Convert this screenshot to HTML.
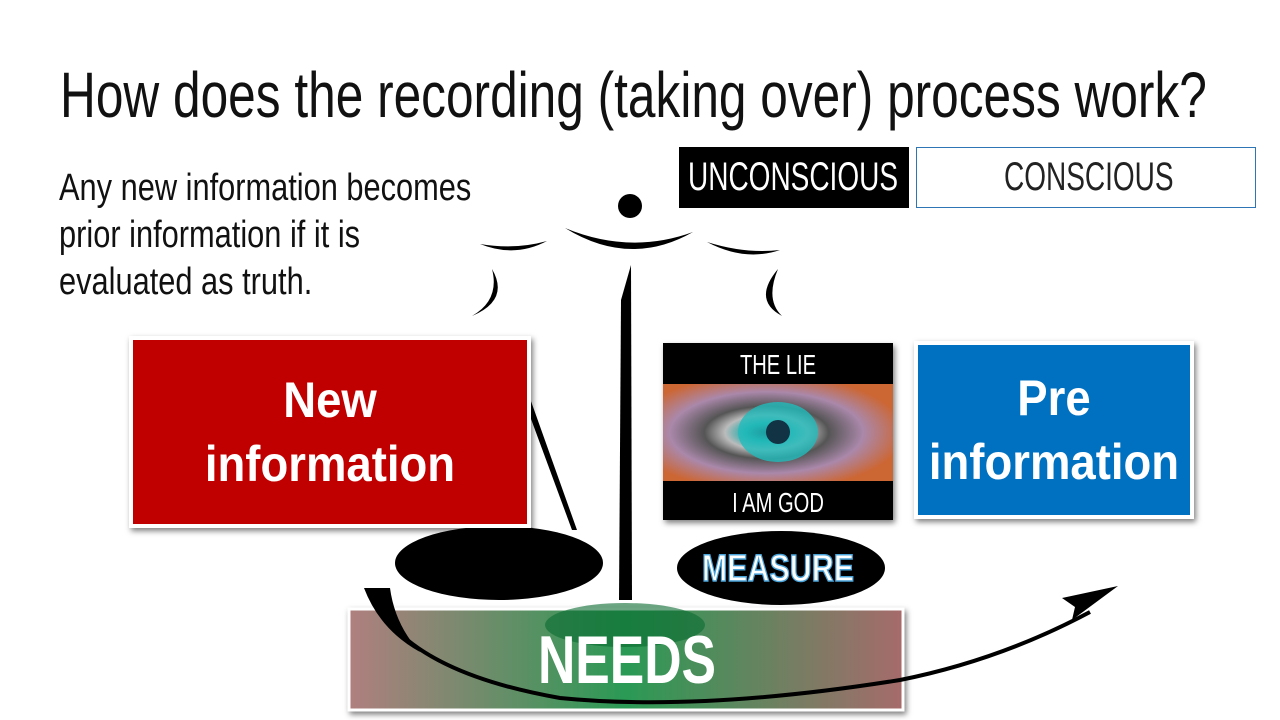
<!DOCTYPE html>
<html><head><meta charset="utf-8"><style>
body{margin:0;width:1280px;height:720px;background:#fff;overflow:hidden;position:relative;font-family:"Liberation Sans",sans-serif}
.t{position:absolute;white-space:nowrap;transform-origin:0 0}
</style></head><body>
<div class="t" style="left:60px;top:58px;font-size:64px;color:#111;transform:scaleX(0.775)">How does the recording (taking over) process work?</div>
<div class="t" style="left:59px;top:165px;font-size:38px;line-height:47px;color:#111;transform:scaleX(0.81)">Any new information becomes<br>prior information if it is<br>evaluated as truth.</div>
<div style="position:absolute;left:679px;top:147px;width:230px;height:61px;background:#000"></div>
<div class="t" style="left:688px;top:155px;font-size:40px;color:#fff;transform:scaleX(0.7)">UNCONSCIOUS</div>
<div style="position:absolute;left:916px;top:147px;width:338px;height:59px;border:1px solid #2e75b6"></div>
<div class="t" style="left:1004px;top:155px;font-size:40px;color:#222;transform:scaleX(0.7)">CONSCIOUS</div>
<svg width="1280" height="720" style="position:absolute;left:0;top:0">
<defs>
<linearGradient id="ng" x1="0" x2="1"><stop offset="0" stop-color="#b07f7f"/><stop offset="0.5" stop-color="#2a9a55"/><stop offset="1" stop-color="#a66b6b"/></linearGradient>
<radialGradient id="eye" cx="0.45" cy="0.5" r="0.6"><stop offset="0" stop-color="#123"/><stop offset="0.15" stop-color="#2aa"/><stop offset="0.3" stop-color="#bbb"/><stop offset="0.45" stop-color="#555"/><stop offset="0.7" stop-color="#a8a"/><stop offset="1" stop-color="#c63"/></radialGradient>
<filter id="sh"><feDropShadow dx="2" dy="3" stdDeviation="3" flood-opacity="0.5"/></filter>
</defs>
<circle cx="630" cy="206" r="12" fill="#000"/>
<path d="M565 228 Q630 268 693 232 Q630 255 565 228Z" fill="#000"/>
<path d="M480 244 Q515 258 547 241 Q515 250 480 244Z" fill="#000"/>
<path d="M707 242 Q745 262 780 250 Q745 254 707 242Z" fill="#000"/>
<path d="M492 269 Q510 300 472 316 Q500 300 492 269Z" fill="#000"/>
<path d="M778 269 Q752 300 782 316 Q765 300 778 269Z" fill="#000"/>
<path d="M631 265 L621 300 L619 600 L632 600Z" fill="#000"/>
<path d="M527 390 L577 530 L572 530 L524 400Z" fill="#000"/>
<ellipse cx="499" cy="563" rx="104" ry="37" fill="#000"/>
<ellipse cx="781" cy="568" rx="104" ry="37" fill="#000"/>
<rect x="131" y="338" width="398" height="188" fill="#c00000" stroke="#fff" stroke-width="4" filter="url(#sh)"/>
<text x="330" y="417" font-size="50" font-weight="bold" fill="#fff" text-anchor="middle" transform="translate(330 0) scale(0.91 1) translate(-330 0)">New</text>
<text x="330" y="481" font-size="50" font-weight="bold" fill="#fff" text-anchor="middle" transform="translate(330 0) scale(0.91 1) translate(-330 0)">information</text>
<rect x="916" y="343" width="276" height="174" fill="#0070c0" stroke="#fff" stroke-width="4" filter="url(#sh)"/>
<text x="1054" y="415" font-size="50" font-weight="bold" fill="#fff" text-anchor="middle" transform="translate(1054 0) scale(0.91 1) translate(-1054 0)">Pre</text>
<text x="1054" y="479" font-size="50" font-weight="bold" fill="#fff" text-anchor="middle" transform="translate(1054 0) scale(0.91 1) translate(-1054 0)">information</text>
<rect x="663" y="343" width="230" height="177" fill="#000" filter="url(#sh)"/>
<rect x="663" y="384" width="230" height="97" fill="url(#eye)"/>
<ellipse cx="778" cy="432" rx="40" ry="30" fill="#2bb" opacity="0.8"/>
<circle cx="778" cy="432" r="12" fill="#134"/>
<text x="778" y="374" font-size="28" fill="#fff" text-anchor="middle" transform="translate(778 0) scale(0.72 1) translate(-778 0)">THE LIE</text>
<text x="778" y="512" font-size="28" fill="#fff" text-anchor="middle" transform="translate(778 0) scale(0.72 1) translate(-778 0)">I AM GOD</text>
<text x="778" y="581" font-size="38" font-weight="bold" fill="#fff" stroke="#4aa3d8" stroke-width="1.5" text-anchor="middle" transform="translate(778 0) scale(0.8 1) translate(-778 0)">MEASURE</text>
<rect x="349" y="609" width="554" height="101" fill="url(#ng)" stroke="#fff" stroke-width="3" filter="url(#sh)"/>
<ellipse cx="625" cy="625" rx="80" ry="22" fill="#0a6a30" opacity="0.6"/>
<path d="M370 590 Q400 670 560 698 Q700 712 900 680 Q1000 660 1090 612" fill="none" stroke="#000" stroke-width="4"/>
<path d="M364 588 L390 588 Q395 625 420 652 Q380 630 364 588Z" fill="#000"/>
<path d="M1118 586 L1062 598 L1075 607 L1072 620 Z" fill="#000"/>
<text x="627" y="683" font-size="68" font-weight="bold" fill="#fff" text-anchor="middle" transform="translate(627 0) scale(0.76 1) translate(-627 0)">NEEDS</text>
</svg>
</body></html>
